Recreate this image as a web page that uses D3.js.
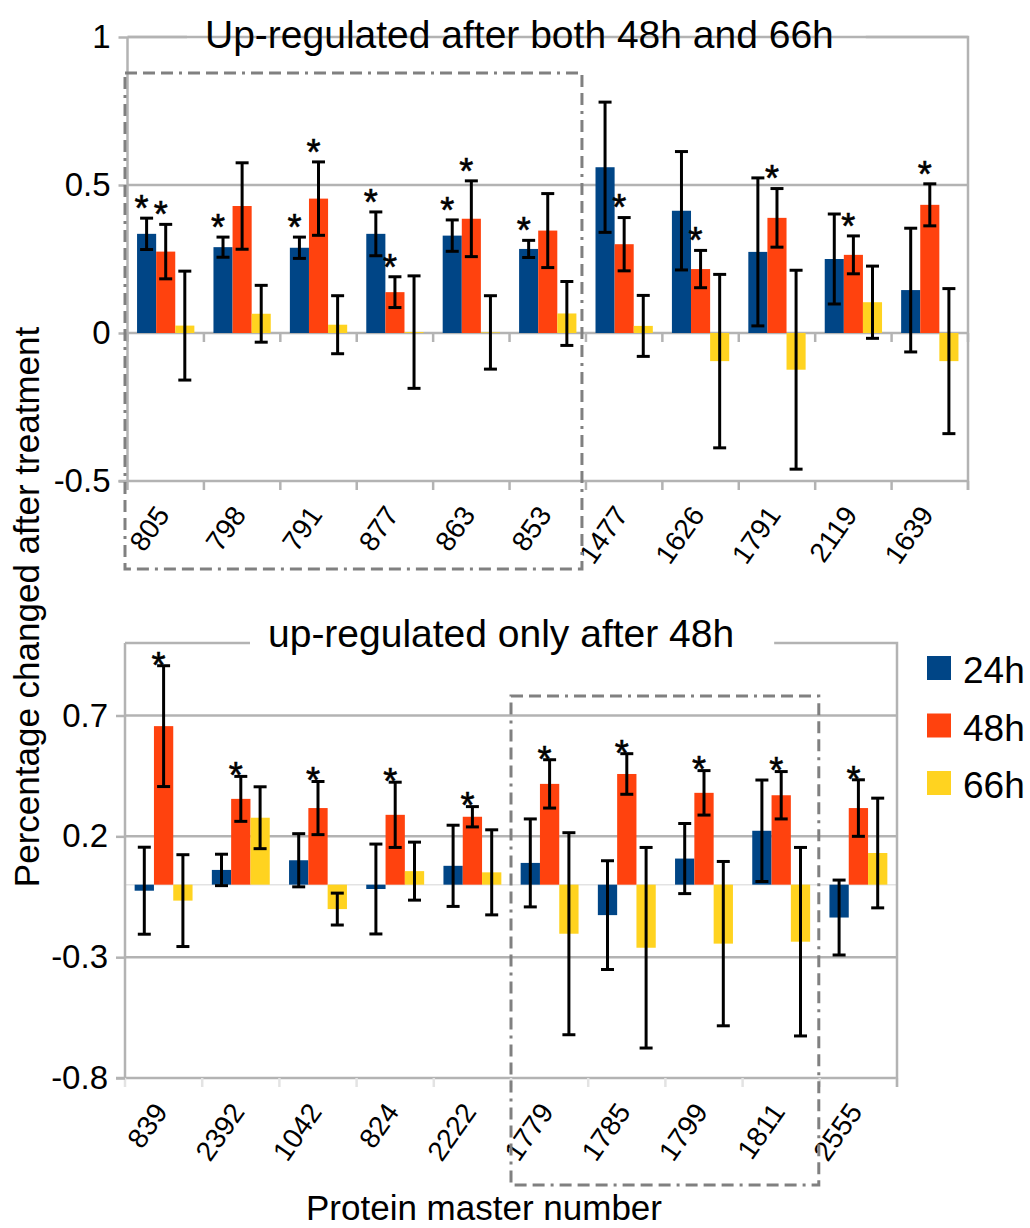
<!DOCTYPE html>
<html>
<head>
<meta charset="utf-8">
<script src="https://cdn.jsdelivr.net/npm/d3@7"></script>
<style>
  html, body { margin: 0; padding: 0; background: #ffffff; }
  svg { display: block; font-family: "Liberation Sans", Arial, sans-serif; }
</style>
</head>
<body>
<svg id="chart" width="1030" height="1228"></svg>
<script>
// Time points and their fill colours
const timepoints = ["24h", "48h", "66h"];
const seriesColors = ["#004586", "#ff420e", "#ffd320"];

// Panel 1: proteins up-regulated after both 48h and 66h
const topProteins = ["805", "798", "791", "877", "863", "853", "1477", "1626", "1791", "2119", "1639"];
const top24 = [0.335, 0.290, 0.288, 0.335, 0.329, 0.284, 0.560, 0.413, 0.274, 0.250, 0.145];
const top48 = [0.275, 0.429, 0.454, 0.138, 0.386, 0.346, 0.300, 0.216, 0.389, 0.264, 0.433];
const top66 = [0.025, 0.065, 0.028, 0.003, 0.002, 0.066, 0.024, -0.095, -0.124, 0.104, -0.095];
const topErr24 = [0.053, 0.034, 0.036, 0.074, 0.053, 0.029, 0.220, 0.200, 0.250, 0.152, 0.209];
const topErr48 = [0.092, 0.146, 0.124, 0.052, 0.128, 0.125, 0.090, 0.063, 0.099, 0.064, 0.071];
const topErr66 = [0.184, 0.096, 0.098, 0.190, 0.124, 0.108, 0.103, 0.293, 0.336, 0.122, 0.245];
const topSig24 = [1, 1, 1, 1, 1, 1, 0, 0, 0, 0, 0];
const topSig48 = [1, 0, 1, 1, 1, 0, 1, 1, 1, 1, 1];
const topSig66 = [0, 0, 0, 0, 0, 0, 0, 0, 0, 0, 0];
const topTicks = [-0.5, 0, 0.5, 1];
const topDomain = [-0.5, 1];

// Panel 2: proteins up-regulated only after 48h
const botProteins = ["839", "2392", "1042", "824", "2222", "1779", "1785", "1799", "1811", "2555"];
const bot24 = [-0.025, 0.061, 0.101, -0.018, 0.078, 0.090, -0.126, 0.108, 0.223, -0.136];
const bot48 = [0.656, 0.355, 0.317, 0.289, 0.281, 0.417, 0.458, 0.380, 0.370, 0.317];
const bot66 = [-0.066, 0.277, -0.101, 0.056, 0.051, -0.203, -0.261, -0.244, -0.236, 0.131];
const botErr24 = [0.180, 0.065, 0.110, 0.186, 0.168, 0.182, 0.225, 0.145, 0.210, 0.155];
const botErr48 = [0.250, 0.093, 0.110, 0.135, 0.042, 0.100, 0.084, 0.092, 0.098, 0.117];
const botErr66 = [0.190, 0.128, 0.066, 0.120, 0.176, 0.418, 0.415, 0.340, 0.390, 0.227];
const botSig24 = [0, 0, 0, 0, 0, 0, 0, 0, 0, 0];
const botSig48 = [1, 1, 1, 1, 1, 1, 1, 1, 1, 1];
const botSig66 = [0, 0, 0, 0, 0, 0, 0, 0, 0, 0];
const botTicks = [-0.8, -0.3, 0.2, 0.7];
const botDomain = [-0.8, 1.0];

const svg = d3.select("#chart");
svg.append("rect").attr("width", 1030).attr("height", 1228).attr("fill", "#ffffff");

const GRID = "#b3b3b3";
const FAINT = "#e3e3e3";
const BOX = "#808080";
const BOX_DASH = "12,6,12,6,12,6,3,6";
const STAR_SIZE = 36;

function drawPanel(opt) {
  const g = svg.append("g");
  const x = d3.scaleBand().domain(opt.names).range([opt.x0, opt.x1]);
  const y = d3.scaleLinear().domain(opt.domain).range([opt.yBottom, opt.yTop]);
  const bw = x.bandwidth();
  const sub = d3.scaleBand().domain(timepoints).range([bw * 0.125, bw * 0.875]);

  // gridlines (the top of the domain is drawn as the frame with the title gap)
  opt.ticks.forEach(t => {
    if (t === opt.domain[0]) return;
    g.append("line")
      .attr("x1", opt.x0).attr("x2", opt.x1)
      .attr("y1", y(t)).attr("y2", y(t))
      .attr("stroke", GRID).attr("stroke-width", 2.5);
  });

  // faint zero line when 0 is not a labelled tick
  if (!opt.ticks.includes(0)) {
    g.append("line")
      .attr("x1", opt.x0).attr("x2", opt.x1)
      .attr("y1", y(0)).attr("y2", y(0))
      .attr("stroke", FAINT).attr("stroke-width", 1.5);
  }

  // bottom axis line
  g.append("line")
    .attr("x1", opt.x0 - 9).attr("x2", opt.x1)
    .attr("y1", y(opt.domain[0])).attr("y2", y(opt.domain[0]))
    .attr("stroke", GRID).attr("stroke-width", 2.5);

  // category boundary ticks
  const bounds = opt.names.map(n => x(n)).concat([opt.x1]);
  const tickLines = opt.ticks.includes(0) ? [opt.domain[0], 0] : [opt.domain[0]];
  tickLines.forEach(v => {
    g.selectAll(null).data(bounds).join("line")
      .attr("x1", d => d).attr("x2", d => d)
      .attr("y1", y(v)).attr("y2", y(v) + 9)
      .attr("stroke", opt.ticks.includes(0) ? GRID : FAINT)
      .attr("stroke-width", 2.5);
  });

  // left axis with labels
  const axis = d3.axisLeft(y).tickValues(opt.ticks).tickSize(9).tickPadding(8)
    .tickFormat(d => String(d));
  const ag = g.append("g").attr("transform", `translate(${opt.x0},0)`).call(axis);
  ag.select(".domain").remove();
  ag.selectAll(".tick line").attr("stroke", GRID).attr("stroke-width", 2.5);
  ag.selectAll(".tick text").attr("font-size", 33).attr("fill", "#000")
    .attr("font-family", "Liberation Sans, Arial, sans-serif");
  g.append("line")
    .attr("x1", opt.x0).attr("x2", opt.x0)
    .attr("y1", opt.yTop).attr("y2", opt.yBottom)
    .attr("stroke", GRID).attr("stroke-width", 2.5);

  // title and the frame broken around it
  const title = g.append("text")
    .attr("x", opt.titleX).attr("y", opt.titleY)
    .attr("font-size", 39).attr("fill", "#000")
    .text(opt.title);
  const tb = title.node().getBBox();
  g.append("path")
    .attr("d", `M${opt.x0},${opt.yTop}H${tb.x - 18}`)
    .attr("stroke", GRID).attr("stroke-width", 2.5).attr("fill", "none");
  g.append("path")
    .attr("d", `M${tb.x + tb.width + opt.titleGapRight},${opt.yTop}H${opt.x1}V${opt.yBottom + 9}`)
    .attr("stroke", GRID).attr("stroke-width", 2.5).attr("fill", "none");

  // bars
  const rows = opt.names.map((n, i) => ({
    name: n,
    vals: timepoints.map((t, k) => ({
      t, k, v: opt.values[k][i], e: opt.errors[k][i], s: opt.sig[k][i]
    }))
  }));
  const groups = g.selectAll(null).data(rows).join("g")
    .attr("transform", d => `translate(${x(d.name)},0)`);
  groups.selectAll("rect").data(d => d.vals).join("rect")
    .attr("x", d => sub(d.t))
    .attr("width", sub.bandwidth())
    .attr("y", d => y(Math.max(0, d.v)))
    .attr("height", d => Math.abs(y(d.v) - y(0)))
    .attr("fill", d => seriesColors[d.k]);

  // error bars
  const eb = groups.selectAll("g.err").data(d => d.vals).join("g").attr("class", "err");
  const cx = d => sub(d.t) + sub.bandwidth() / 2;
  eb.append("line")
    .attr("x1", cx).attr("x2", cx)
    .attr("y1", d => y(d.v + d.e)).attr("y2", d => y(d.v - d.e))
    .attr("stroke", "#000").attr("stroke-width", 3);
  [1, -1].forEach(sgn => {
    eb.append("line")
      .attr("x1", d => cx(d) - 6.5).attr("x2", d => cx(d) + 6.5)
      .attr("y1", d => y(d.v + sgn * d.e)).attr("y2", d => y(d.v + sgn * d.e))
      .attr("stroke", "#000").attr("stroke-width", 3);
  });

  // significance markers
  groups.selectAll("text.sig").data(d => d.vals.filter(v => v.s)).join("text")
    .attr("class", "sig")
    .attr("x", d => cx(d) - 5)
    .attr("y", d => y(d.v + d.e) - opt.starGap + STAR_SIZE * 0.58)
    .attr("text-anchor", "middle")
    .attr("font-size", STAR_SIZE).attr("fill", "#000")
    .attr("stroke", "#000").attr("stroke-width", 0.6)
    .text("*");

  // category labels
  g.selectAll("text.cat").data(opt.names).join("text")
    .attr("class", "cat")
    .attr("text-anchor", "end")
    .attr("font-size", 28).attr("fill", "#000")
    .attr("transform", d => `translate(${x(d) + bw / 2 + 5},${opt.yBottom + 34}) rotate(-55)`)
    .text(d => d);

  return { x, y };
}

const topPanel = drawPanel({
  names: topProteins,
  values: [top24, top48, top66],
  errors: [topErr24, topErr48, topErr66],
  sig: [topSig24, topSig48, topSig66],
  ticks: topTicks, domain: topDomain,
  x0: 127.5, x1: 968, yTop: 37, yBottom: 481,
  title: "Up-regulated after both 48h and 66h",
  titleX: 205, titleY: 48, titleGapRight: 32,
  starGap: 18
});

const botPanel = drawPanel({
  names: botProteins,
  values: [bot24, bot48, bot66],
  errors: [botErr24, botErr48, botErr66],
  sig: [botSig24, botSig48, botSig66],
  ticks: botTicks, domain: botDomain,
  x0: 125, x1: 897, yTop: 643, yBottom: 1078,
  title: "up-regulated only after 48h",
  titleX: 268, titleY: 647, titleGapRight: 40,
  starGap: 9
});

// dash-dot highlight frames around protein groups
function highlight(panel, fromName, toName, x0off, x1off, yTop, yBottom) {
  const xa = panel.x(fromName) + x0off;
  const xb = panel.x(toName) + x1off;
  svg.append("rect")
    .attr("x", xa).attr("y", yTop)
    .attr("width", xb - xa).attr("height", yBottom - yTop)
    .attr("fill", "none").attr("stroke", BOX).attr("stroke-width", 3)
    .attr("stroke-dasharray", BOX_DASH);
}
highlight(topPanel, "805", "1477", -2.5, -4, 73, 569);
highlight(botPanel, "1779", "2555", 0, -1, 696, 1185);

// legend
const legend = svg.append("g").attr("transform", "translate(927,656)");
legend.selectAll("rect").data(timepoints).join("rect")
  .attr("x", 0).attr("y", (d, i) => i * 57.5)
  .attr("width", 24).attr("height", 24)
  .attr("fill", (d, i) => seriesColors[i]);
legend.selectAll("text").data(timepoints).join("text")
  .attr("x", 36).attr("y", (d, i) => i * 57.5 + 27)
  .attr("font-size", 37).attr("fill", "#000")
  .text(d => d);

// axis titles
svg.append("text")
  .attr("transform", "translate(39,607) rotate(-90)")
  .attr("text-anchor", "middle")
  .attr("font-size", 35).attr("fill", "#000")
  .text("Percentage changed after treatment");
svg.append("text")
  .attr("x", 484).attr("y", 1220)
  .attr("text-anchor", "middle")
  .attr("font-size", 35).attr("fill", "#000")
  .text("Protein master number");
</script>
</body>
</html>
